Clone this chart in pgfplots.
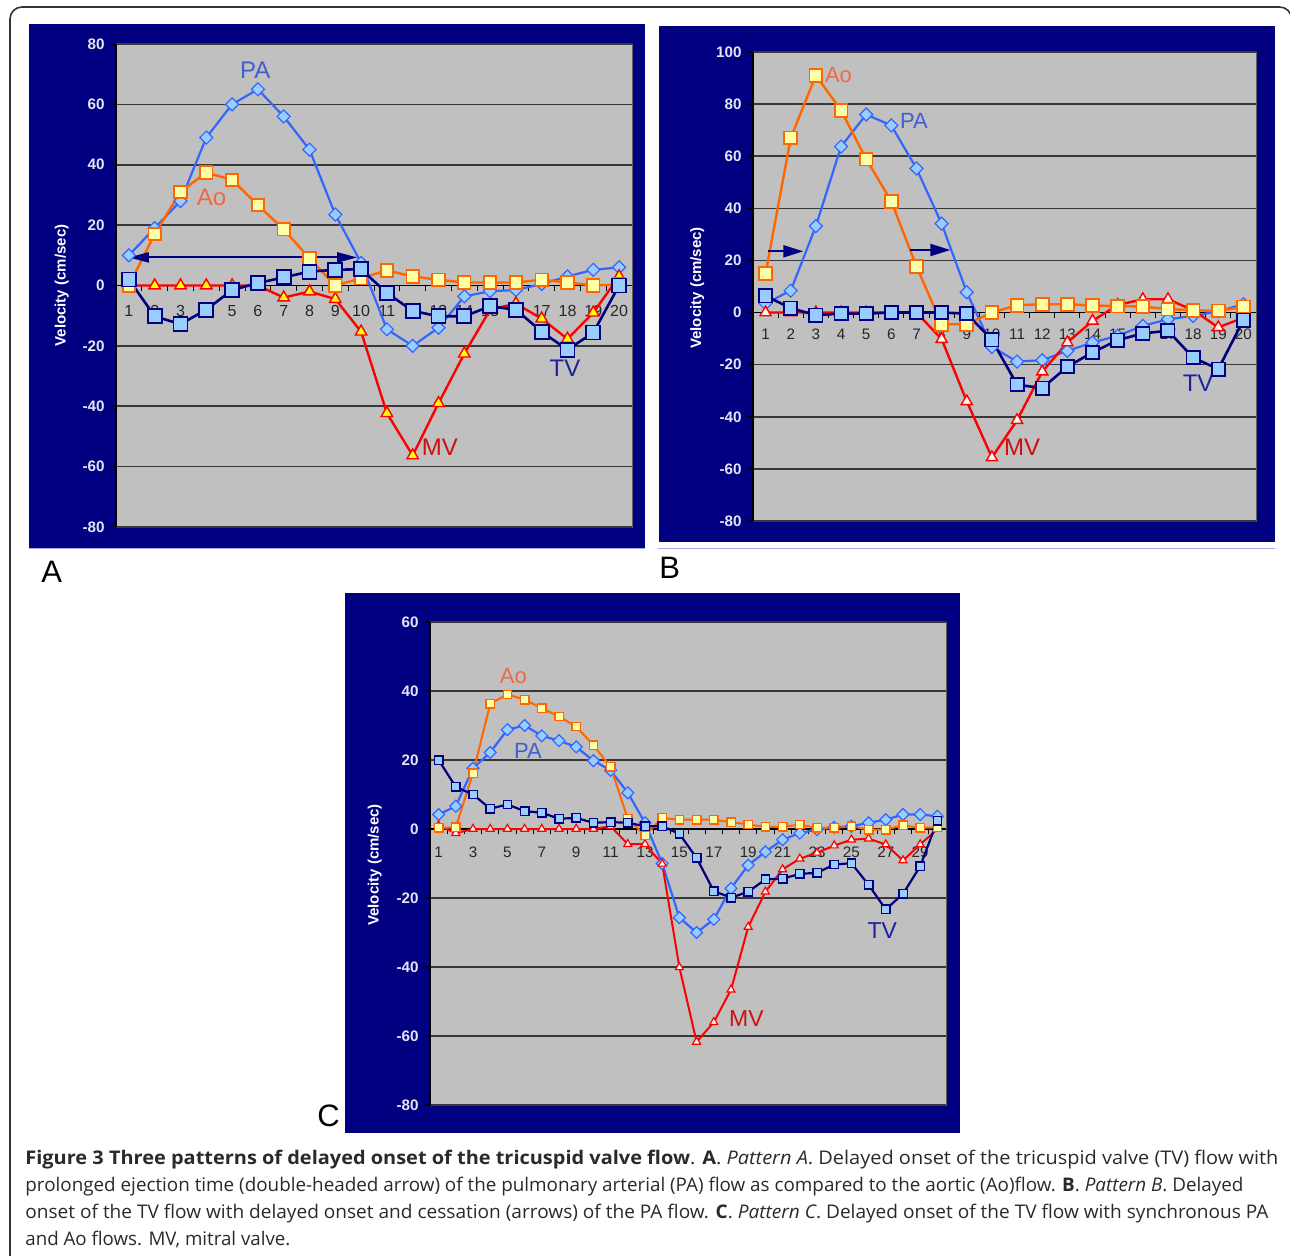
\documentclass[border=0pt]{standalone}
\usepackage{fontspec}
\setmainfont{Open Sans}
\newfontfamily\arial{Liberation Sans}
\usepackage{graphicx}
\usepackage{pgfplots}
\usepackage{pgfplotstable}
\pgfplotsset{compat=1.18}
\usetikzlibrary{arrows.meta}
\definecolor{navybg}{HTML}{000080}
\definecolor{plotgray}{HTML}{C0C0C0}
\definecolor{pablue}{HTML}{3366FF}
\definecolor{pafill}{HTML}{99CCFF}
\definecolor{aoorange}{HTML}{FF6600}
\definecolor{aofill}{HTML}{FFFFA8}
\definecolor{mvred}{HTML}{FF0000}
\definecolor{mvfillA}{HTML}{FFFF00}
\definecolor{mvfillB}{HTML}{FFF6F0}
\definecolor{tvnavy}{HTML}{000080}
\definecolor{ticklab}{HTML}{E4E4F6}
\definecolor{palab}{HTML}{3F5FD0}
\definecolor{aolab}{HTML}{EE6A44}
\definecolor{mvlab}{HTML}{CC1111}
\definecolor{tvlab}{HTML}{1F1FA0}
\definecolor{captext}{HTML}{2A2A2A}
\definecolor{lav}{HTML}{A8A8E0}

\pgfplotstableread{
x PA Ao MV TV
1 10 0 0 2
2 19 17 0 -10.2
3 28 31 0 -12.8
4 49 37.4 0 -8
5 60 35 0 -1.5
6 65 26.6 0 0.8
7 56 18.6 -4 2.7
8 45 9 -2 4.6
9 23.5 0 -4.5 5.2
10 7.5 2.4 -15.3 5.4
11 -14.5 5 -42.3 -2.5
12 -20 3 -56.3 -8.4
13 -14 1.9 -39 -10.2
14 -3.6 1 -22.6 -10.2
15 -1.9 1 -8 -6.9
16 -1.5 1 -6 -8
17 0.5 1.9 -11 -15.3
18 3 1 -17.7 -21.3
19 5.2 0 -9 -15.6
20 6 0.3 3 0
}\dataA

\pgfplotstableread{
x PA Ao MV TV
1 3.5 15 0 6.4
2 8.4 67 0 1.7
3 33.2 91 0 -1
4 63.7 77.6 0 -0.4
5 76 58.9 0 -0.4
6 71.8 42.7 0 0
7 55.3 17.7 0 0
8 34.1 -4.5 -10.2 0
9 7.8 -4.5 -34.1 -0.4
10 -13.2 0 -55.6 -10.5
11 -18.8 2.8 -41.3 -27.7
12 -18.3 3.2 -22.7 -29
13 -14.7 3.2 -11.5 -20.8
14 -11.5 2.7 -3.2 -15.3
15 -8.9 2.5 2.9 -10.6
16 -5.1 2.3 5.1 -8
17 -2.6 1.3 5.1 -7
18 -1.3 0.9 0.9 -17.3
19 0.5 0.6 -5.7 -21.7
20 3.2 2.2 -2 -2.9
}\dataB

\pgfplotstableread{
x PA Ao MV TV
1 4.2 0.3 1 20
2 6.6 0.5 -1.2 12.2
3 17.6 16.2 0 10
4 22.2 36.3 0 5.9
5 28.8 39 0 7.1
6 30 37.5 0 5.2
7 27 35 0 4.7
8 25.6 32.6 0 3
9 23.8 29.7 0 3.2
10 19.8 24.3 0 1.8
11 17 18 0.8 2
12 10.5 3 -4.4 1.8
13 1.8 -1.9 -4.4 0.8
14 -10 3.2 -10.1 0.8
15 -25.7 2.7 -40.1 -1.4
16 -30 2.7 -61.7 -8.4
17 -26.2 2.7 -56 -18
18 -17.2 2 -46.6 -19.9
19 -10.5 1.3 -28.4 -18.2
20 -6.6 0.6 -18.2 -14.6
21 -3.1 0.6 -11.7 -14.4
22 -1.2 1.3 -8.6 -13
23 -0.2 0.3 -6.9 -12.7
24 0.5 0.3 -4.8 -10.3
25 0.8 0.8 -3.1 -9.9
26 1.8 -0.2 -2.8 -16.2
27 2.7 -0.2 -4.5 -23.3
28 4.2 1.1 -9.1 -18.8
29 4.2 0.3 -4.5 -10.8
30 3.7 0.5 0 2.4
}\dataC

\tikzset{lab/.style={font=\arial\fontsize{#1}{#1}\selectfont, inner sep=0pt}}
\pgfplotsset{
  panel/.style={
    scale only axis, anchor=north west,
    axis background/.style={fill=plotgray, draw=gray!75!black, line width=0.4pt},
    axis x line*=middle, axis y line*=left,
    hide obscured x ticks=false, hide obscured y ticks=false,
    axis line style={black, line width=0.9pt},
    ymajorgrids, major grid style={black!78, line width=0.8pt},
    tick align=outside,
    every major x tick/.append style={draw=none},
    minor tick length=2.5pt,
    every minor x tick/.append style={black, line width=0.5pt},
    major tick length=2.5pt,
    every major y tick/.append style={black, line width=0.6pt},
    yticklabel style={font=\arial\bfseries\fontsize{7.6}{8}\selectfont, text=ticklab, inner sep=1pt, xshift=-2pt},
    xticklabel style={font=\arial\fontsize{8}{9}\selectfont, text=black!85},
    ylabel={Velocity (cm/sec)},
    ylabel style={font=\arial\bfseries\fontsize{7.5}{9}\selectfont, text=white, anchor=center},
    xmin=0.5,
  },
  pastyle/.style={pablue, line width=1.1pt, mark=square*, mark size=#1,
    mark options={fill=pafill, draw=pablue, line width=0.6pt, rotate=45}},
}

\begin{document}
\begin{tikzpicture}
\useasboundingbox (0,0) rectangle (645pt,-628pt);
\fill[white] (0,0) rectangle (645pt,-628pt);
\draw[black!80, line width=0.8pt, rounded corners=6pt] (5pt,-3.5pt) rectangle (645.8pt,-640pt);
% panel backgrounds
\fill[navybg] (14.5pt,-12pt) rectangle (322.5pt,-274.5pt);
\draw[lav, line width=0.5pt] (14.5pt,-274.5pt) -- (322.5pt,-274.5pt);
\fill[navybg] (329.5pt,-13pt) rectangle (637.5pt,-271pt);
\draw[lav, line width=0.5pt] (329pt,-274.5pt) -- (637.5pt,-274.5pt);
\fill[navybg] (172.5pt,-296.5pt) rectangle (480pt,-566.5pt);

% ---------------- Panel A
\begin{axis}[panel, at={(58pt,-22pt)}, width=258pt, height=241.5pt,
  xmax=20.5, ymin=-80, ymax=80,
  ytick={-80,-60,...,80}, yticklabels={-80,-60,-40,-20,0,20,40,60,80},
  xtick={1,...,20}, xticklabels={1,2,3,4,5,6,7,8,9,10,11,12,13,14,15,16,17,18,19,20},
  minor xtick={1.5,2.5,...,19.5},
  xticklabel style={yshift=-4pt},
  ylabel style={at={(axis description cs:-0.105,0.5)}},
]
\addplot[pastyle=2.3pt] table[x=x,y=PA]{\dataA};
\addplot[mvred, line width=1.2pt, mark=triangle*, mark size=3.3pt,
  mark options={fill=mvfillA, draw=mvred, line width=0.7pt}] table[x=x,y=MV]{\dataA};
\addplot[aoorange, line width=1.2pt, mark=square*, mark size=3.1pt,
  mark options={fill=aofill, draw=aoorange, line width=0.9pt}] table[x=x,y=Ao]{\dataA};
\addplot[tvnavy, line width=1.3pt, mark=square*, mark size=3.5pt,
  mark options={fill=pafill, draw=tvnavy, line width=0.9pt}] table[x=x,y=TV]{\dataA};
\addplot[tvnavy, line width=1pt, mark=none,
  arrows={Triangle[length=10pt,width=5pt]-Triangle[length=10pt,width=5pt]}] coordinates {(1.0,9.3) (9.85,9.3)};
\node[lab=12, text=palab] at (axis cs:5.9,71.3) {PA};
\node[lab=12, text=aolab] at (axis cs:4.2,29.3) {Ao};
\node[lab=12, text=mvlab] at (axis cs:13.05,-53.6) {MV};
\node[lab=12, text=tvlab] at (axis cs:17.9,-27.3) {TV};
\end{axis}

% ---------------- Panel B
\begin{axis}[panel, at={(376.5pt,-26pt)}, width=251.5pt, height=234.5pt,
  xmax=20.5, ymin=-80, ymax=100,
  ytick={-80,-60,...,100}, yticklabels={-80,-60,-40,-20,0,20,40,60,80,100},
  xtick={1,...,20}, xticklabels={1,2,3,4,5,6,7,8,9,10,11,12,13,14,15,16,17,18,19,20},
  minor xtick={1.5,2.5,...,19.5},
  xticklabel style={yshift=-2pt, font=\arial\fontsize{7.6}{9}\selectfont},
  ylabel style={at={(axis description cs:-0.111,0.497)}},
]
\addplot[pastyle=2.3pt] table[x=x,y=PA]{\dataB};
\addplot[mvred, line width=1.2pt, mark=triangle*, mark size=3.2pt,
  mark options={fill=mvfillB, draw=mvred, line width=0.7pt}] table[x=x,y=MV]{\dataB};
\addplot[aoorange, line width=1.2pt, mark=square*, mark size=3.2pt,
  mark options={fill=aofill, draw=aoorange, line width=0.9pt}] table[x=x,y=Ao]{\dataB};
\addplot[tvnavy, line width=1.3pt, mark=square*, mark size=3.3pt,
  mark options={fill=pafill, draw=tvnavy, line width=0.9pt}] table[x=x,y=TV]{\dataB};
\addplot[tvnavy, line width=1pt, mark=none,
  arrows={-Triangle[length=10pt,width=6pt]}] coordinates {(1.1,23.5) (2.5,23.5)};
\addplot[tvnavy, line width=1pt, mark=none,
  arrows={-Triangle[length=10pt,width=6pt]}] coordinates {(6.75,24) (8.35,24)};
\node[lab=11, text=aolab] at (axis cs:3.9,91) {Ao};
\node[lab=11, text=palab] at (axis cs:6.9,73.7) {PA};
\node[lab=12, text=mvlab] at (axis cs:11.2,-51.8) {MV};
\node[lab=12, text=tvlab] at (axis cs:18.2,-27.2) {TV};
\end{axis}

% ---------------- Panel C
\begin{axis}[panel, at={(215pt,-311pt)}, width=258pt, height=241.5pt,
  xmax=30.5, ymin=-80, ymax=60,
  ytick={-80,-60,...,60}, yticklabels={-80,-60,-40,-20,0,20,40,60},
  xtick={1,3,...,29}, xticklabels={1,3,5,7,9,11,13,15,17,19,21,23,25,27,29},
  minor xtick={1.5,2.5,...,29.5},
  xticklabel style={yshift=-3pt, font=\arial\fontsize{7.6}{9}\selectfont},
  ylabel style={at={(axis description cs:-0.107,0.497)}},
]
\addplot[pastyle=2.1pt] table[x=x,y=PA]{\dataC};
\addplot[mvred, line width=1pt, mark=triangle*, mark size=2.3pt,
  mark options={fill=mvfillB, draw=mvred, line width=0.6pt}] table[x=x,y=MV]{\dataC};
\addplot[aoorange, line width=1pt, mark=square*, mark size=2.1pt,
  mark options={fill=aofill, draw=aoorange, line width=0.7pt}] table[x=x,y=Ao]{\dataC};
\addplot[tvnavy, line width=1.1pt, mark=square*, mark size=2.1pt,
  mark options={fill=pafill, draw=tvnavy, line width=0.7pt}] table[x=x,y=TV]{\dataC};
\node[lab=11, text=aolab] at (axis cs:5.35,44.3) {Ao};
\node[lab=11, text=palab] at (axis cs:6.2,22.7) {PA};
\node[lab=11.5, text=mvlab] at (axis cs:18.9,-55) {MV};
\node[lab=11.5, text=tvlab] at (axis cs:26.8,-29.3) {TV};
\end{axis}

% panel letters
\node[anchor=base west, inner sep=0, font=\arial\fontsize{15.5}{16}\selectfont] at (20.5pt,-291pt) {A};
\node[anchor=base west, inner sep=0, font=\arial\fontsize{15.5}{16}\selectfont] at (329.5pt,-289.5pt) {B};
\node[anchor=base west, inner sep=0, font=\arial\fontsize{15.5}{16}\selectfont] at (158.5pt,-563pt) {C};

% caption
\begin{scope}[every node/.style={anchor=base west, inner sep=0pt, text=captext, font=\fontsize{9.4}{12}\selectfont}]
\node at (12.5pt,-582pt) {\resizebox{626.5pt}{\height}{\textbf{Figure 3 Three patterns of delayed onset of the tricuspid valve flow}. \textbf{A}. \textit{Pattern A}. Delayed onset of the tricuspid valve (TV) flow with}};
\node at (12.5pt,-595.5pt) {\resizebox{609pt}{\height}{prolonged ejection time (double-headed arrow) of the pulmonary arterial (PA) flow as compared to the aortic (Ao)flow. \textbf{B}. \textit{Pattern B}. Delayed}};
\node at (12.5pt,-609pt) {\resizebox{621.5pt}{\height}{onset of the TV flow with delayed onset and cessation (arrows) of the PA flow. \textbf{C}. \textit{Pattern C}. Delayed onset of the TV flow with synchronous PA}};
\node at (12.5pt,-622.5pt) {\resizebox{132.5pt}{\height}{and Ao flows. MV, mitral valve.}};
\end{scope}
\end{tikzpicture}
\end{document}
